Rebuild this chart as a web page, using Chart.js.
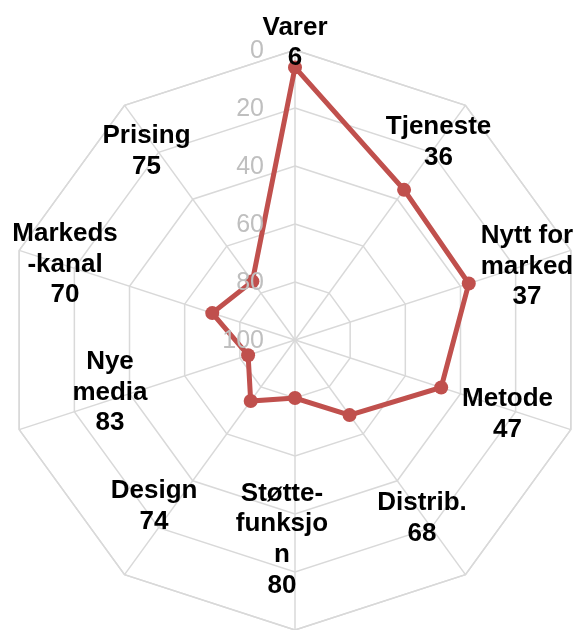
<!DOCTYPE html>
<html>
<head>
<meta charset="utf-8">
<script src="https://cdn.jsdelivr.net/npm/chart.js@4"></script>
<style>
  html, body { margin: 0; padding: 0; background: #fff; }
  .frame { width: 576px; height: 630px; overflow: hidden; position: relative; }
  .wrap { width: 590px; height: 630px; position: absolute; left: 0; top: 0; }
</style>
</head>
<body>
<div class="frame"><div class="wrap"><canvas id="radar"></canvas></div></div>
<script>
// categories, split the way the labels are written in the picture
const categories = [
  ['Varer'],
  ['Tjeneste'],
  ['Nytt for', 'marked'],
  ['Metode'],
  ['Distrib.'],
  ['Støtte-', 'funksjo', 'n'],
  ['Design'],
  ['Nye', 'media'],
  ['Markeds', '-kanal'],
  ['Prising']
]
const values = [6, 36, 37, 47, 68, 80, 74, 83, 70, 75]
const tickValues = [0, 20, 40, 60, 80, 100]

const gridColor = '#d9d9d9'
const lineColor = '#c0504d'

// centre of each label block, as a share of the radius, measured from the middle
const labelOffset = [
  [0, -1.026], [0.495, -0.683], [0.8, -0.255], [0.733, 0.255], [0.438, 0.614],
  [-0.045, 0.686], [-0.486, 0.571], [-0.638, 0.179], [-0.793, -0.262], [-0.512, -0.652]
]

const insideLabels = {
  id: 'insideLabels',
  beforeDatasetsDraw(chart) {
    // chart.js skips the outer ring when the scale is reversed, so draw it here
    const r = chart.scales.r
    const ctx = chart.ctx
    ctx.save()
    ctx.strokeStyle = gridColor
    ctx.lineWidth = 1.5
    ctx.beginPath()
    for (let i = 0; i < categories.length; i++) {
      const p = r.getPointPositionForValue(i, r.min)
      if (i === 0) ctx.moveTo(p.x, p.y)
      else ctx.lineTo(p.x, p.y)
    }
    ctx.closePath()
    ctx.stroke()
    ctx.restore()
  },
  afterDatasetsDraw(chart) {
    const r = chart.scales.r
    const ctx = chart.ctx
    ctx.save()
    // tick labels, right aligned left of the top spoke
    ctx.font = '25px "Liberation Sans", Arial, sans-serif'
    ctx.fillStyle = '#bfbfbf'
    ctx.textAlign = 'right'
    ctx.textBaseline = 'middle'
    r.ticks.forEach(t => {
      const p = r.getPointPositionForValue(0, t.value)
      ctx.fillText(t.label, p.x - 31, p.y + 1)
    })
    // category labels with their value underneath
    ctx.font = 'bold 26px "Liberation Sans", Arial, sans-serif'
    ctx.fillStyle = '#000'
    ctx.textAlign = 'center'
    const lh = 30.7
    for (let i = 0; i < categories.length; i++) {
      const lines = categories[i].concat(String(values[i]))
      const x = r.xCenter + labelOffset[i][0] * r.drawingArea
      const y = r.yCenter + labelOffset[i][1] * r.drawingArea
      const y0 = y - (lines.length - 1) * lh / 2
      lines.forEach((line, k) => {
        ctx.fillText(line, x, y0 + k * lh + 0.5)
      })
    }
    ctx.restore()
  }
}

new Chart(document.getElementById('radar'), {
  type: 'radar',
  data: {
    labels: categories,
    datasets: [{
      data: values,
      borderColor: lineColor,
      backgroundColor: lineColor,
      borderWidth: 5,
      pointRadius: 7,
      pointBackgroundColor: lineColor,
      pointBorderWidth: 0,
      fill: false
    }]
  },
  options: {
    responsive: true,
    maintainAspectRatio: false,
    animation: false,
    layout: { padding: { left: 5, right: 5, top: 50, bottom: 0 } },
    plugins: { legend: { display: false }, tooltip: { enabled: false } },
    scales: {
      r: {
        min: 0,
        max: 100,
        reverse: true,
        ticks: {
          reverse: true,
          stepSize: 20,
          display: false,
          callback: (v) => tickValues.includes(v) ? String(v) : ''
        },
        pointLabels: { display: false },
        grid: { color: gridColor, lineWidth: 1.5 },
        angleLines: { color: gridColor, lineWidth: 1.5 }
      }
    }
  },
  plugins: [insideLabels]
})
</script>
</body>
</html>
